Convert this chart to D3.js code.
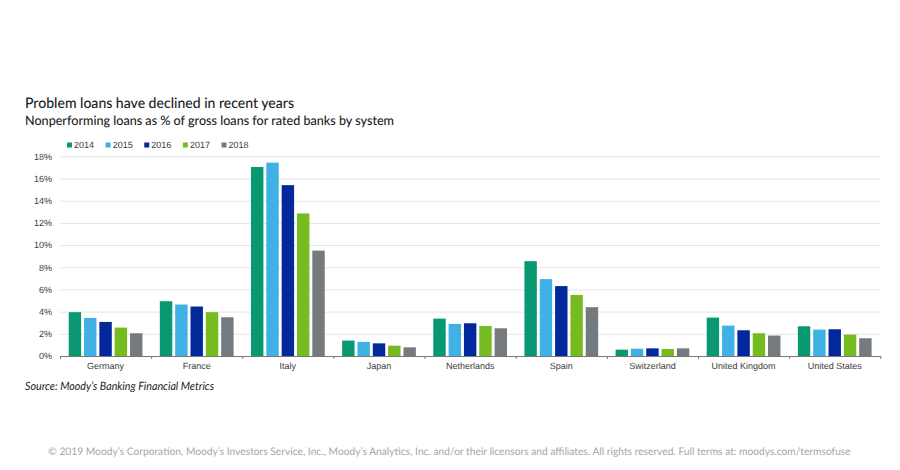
<!DOCTYPE html>
<html><head><meta charset="utf-8">
<script src="https://cdn.jsdelivr.net/npm/d3@7"></script>
<style>
html,body{margin:0;padding:0;background:#fff}
svg{display:block;text-rendering:geometricPrecision}
.axis-label{font-family:"Liberation Sans",Arial,sans-serif;font-size:9px;fill:#3c3c3c}
.hd{font-family:Lato,"Open Sans",sans-serif;fill:#1c1c1c}
</style></head><body>
<svg id="c" width="900" height="470"></svg>
<script>
const categories=["Germany","France","Italy","Japan","Netherlands","Spain","Switzerland","United Kingdom","United States"];
const years=["2014","2015","2016","2017","2018"];
const colors=["#0a9873","#3fb1e5","#03289b","#76bb1f","#757a7e"];
const v2014=[3.95,4.94,17.04,1.39,3.37,8.55,0.57,3.46,2.68];
const v2015=[3.43,4.64,17.43,1.27,2.89,6.93,0.66,2.74,2.38];
const v2016=[3.07,4.46,15.40,1.14,2.95,6.30,0.69,2.32,2.41];
const v2017=[2.56,3.95,12.85,0.93,2.71,5.50,0.63,2.05,1.93];
const v2018=[2.05,3.49,9.50,0.78,2.50,4.40,0.69,1.84,1.60];
const seriesValues=[v2014,v2015,v2016,v2017,v2018];
const yTicks=[0,2,4,6,8,10,12,14,16,18];
const title="Problem loans have declined in recent years";
const subtitle="Nonperforming loans as % of gross loans for rated banks by system";
const source="Source: Moody\u2019s Banking Financial Metrics";
const footer="\u00a9 2019 Moody\u2019s Corporation, Moody\u2019s Investors Service, Inc., Moody\u2019s Analytics, Inc. and/or their licensors and affiliates. All rights reserved. Full terms at: moodys.com/termsofuse";

const svg=d3.select("#c");
const L=60,R=880.3,T=156.3,B=356;
const x=d3.scaleBand().domain(categories).range([L,R]).paddingInner(0).paddingOuter(0);
const inner=d3.scaleBand().domain(years).range([8.7,x.bandwidth()-8.7]).paddingInner(0.19).paddingOuter(0);
const y=d3.scaleLinear().domain([0,18]).range([B,T]);

// gridlines + y labels
const ya=svg.append("g").attr("transform",`translate(${L},0)`)
  .call(d3.axisLeft(y).tickValues(yTicks).tickFormat(d=>d+"%").tickSize(-(R-L)).tickPadding(8));
ya.select(".domain").remove();
ya.selectAll("line").attr("stroke","#e3e5e8").attr("stroke-width",1);
ya.selectAll("text").attr("class","axis-label").attr("fill",null).attr("font-family",null).attr("font-size",null);

// bars
svg.append("g").selectAll("g").data(years).join("g").attr("fill",(d,i)=>colors[i])
  .selectAll("rect").data((yr,i)=>seriesValues[i].map((val,j)=>({yr,val,cat:categories[j]}))).join("rect")
  .attr("x",d=>x(d.cat)+inner(d.yr)).attr("width",inner.bandwidth())
  .attr("y",d=>y(d.val)).attr("height",d=>B-y(d.val));

// category labels
const xa=svg.append("g").attr("transform",`translate(0,${B})`)
  .call(d3.axisBottom(x).tickSize(0).tickPadding(7));
xa.select(".domain").remove();
xa.selectAll("text").attr("class","axis-label").attr("fill",null).attr("font-family",null).attr("font-size",null);

// axis line with boundary ticks
const bounds=d3.scaleLinear().domain([0,categories.length]).range([L,R]);
const xb=svg.append("g").attr("transform",`translate(0,${B})`)
  .call(d3.axisBottom(bounds).tickValues(d3.range(categories.length+1)).tickFormat("").tickSize(3).tickSizeOuter(0));
xb.selectAll("path,line").attr("stroke","#777");

// legend
const lx=d3.scalePoint().domain(years).range([67,221.5]);
const lg=svg.append("g").selectAll("g").data(years).join("g").attr("transform",d=>`translate(${lx(d)},145)`);
lg.append("rect").attr("y",-2.5).attr("width",5).attr("height",5).attr("fill",(d,i)=>colors[i]);
lg.append("text").attr("class","axis-label").attr("x",7).attr("dy","0.34em").text(d=>d);

// text
svg.append("text").attr("class","hd").attr("x",25).attr("y",108).attr("font-size",14.5).attr("font-weight",500).attr("textLength",269).attr("lengthAdjust","spacingAndGlyphs").text(title);
svg.append("text").attr("class","hd").attr("x",25).attr("y",125).attr("font-size",13).attr("font-weight",500).attr("textLength",369).attr("lengthAdjust","spacingAndGlyphs").text(subtitle);
svg.append("text").attr("class","hd").attr("x",25).attr("y",390).attr("font-size",11.5).attr("font-style","italic").attr("textLength",189).attr("lengthAdjust","spacingAndGlyphs").text(source);
svg.append("text").attr("class","hd").attr("x",48.3).attr("y",455).attr("font-size",10.5).attr("textLength",802.4).attr("lengthAdjust","spacingAndGlyphs").style("fill","#a6a6a6").text(footer);
</script></body></html>
